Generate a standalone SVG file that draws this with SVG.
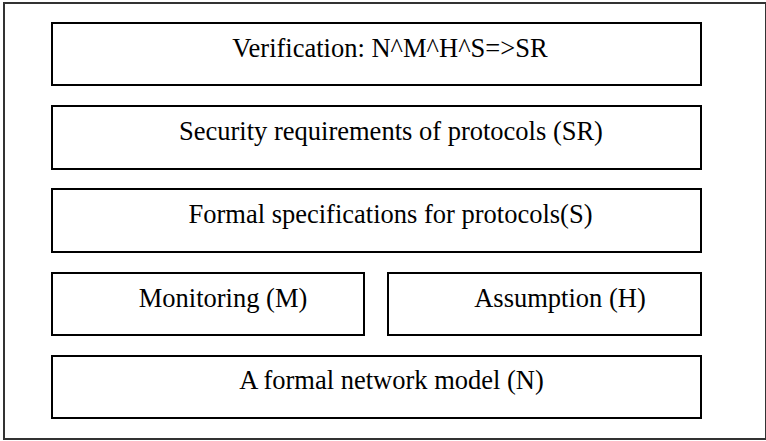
<svg xmlns="http://www.w3.org/2000/svg" width="766" height="441" viewBox="0 0 766 441">
  <style>
    .frame { fill: none; stroke: #333; stroke-width: 2; }
    .box { fill: #fff; stroke: #000; stroke-width: 2; }
    .label { font-family: "Liberation Serif", "Times New Roman", serif; font-size: 26.5px; fill: #000; text-anchor: middle; }
  </style>
  <rect width="766" height="441" fill="#fff"/>
  <!-- outer frame -->
  <rect class="frame" x="4" y="3" width="762" height="436"/>
  <g id="connectors"/>
  <g id="verification">
    <rect class="box" x="52" y="23" width="649" height="62"/>
    <text class="label" x="390" y="57">Verification: N^M^H^S=&gt;SR</text>
  </g>
  <g id="security-requirements">
    <rect class="box" x="52" y="106" width="649" height="63"/>
    <text class="label" x="391" y="140">Security requirements of protocols (SR)</text>
  </g>
  <g id="formal-specifications">
    <rect class="box" x="52" y="189" width="649" height="63"/>
    <text class="label" x="390.5" y="223">Formal specifications for protocols(S)</text>
  </g>
  <g id="monitoring">
    <rect class="box" x="52" y="273" width="312" height="62"/>
    <text class="label" x="223" y="307">Monitoring (M)</text>
  </g>
  <g id="assumption">
    <rect class="box" x="388" y="273" width="313" height="62"/>
    <text class="label" x="560" y="307">Assumption (H)</text>
  </g>
  <g id="network-model">
    <rect class="box" x="52" y="356" width="649" height="62"/>
    <text class="label" x="391.5" y="389">A formal network model (N)</text>
  </g>
</svg>
